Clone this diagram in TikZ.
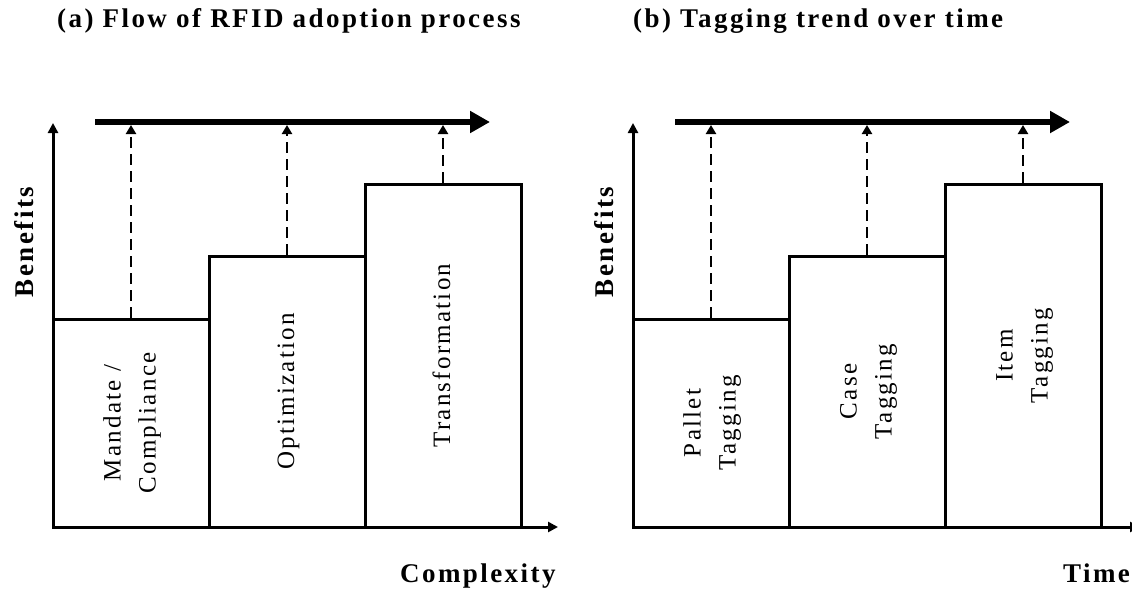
\documentclass[tikz,border=0pt]{standalone}
\usepackage{fontspec}
\setmainfont{Liberation Serif}[LetterSpace=9]
\usepackage{graphicx}
\usetikzlibrary{arrows.meta}

\newcommand{\uplabel}[1]{\rotatebox{90}{\begin{tabular}{@{}c@{}}#1\end{tabular}}}

\begin{document}
\begin{tikzpicture}[x=1pt, y=-1pt,
  axis/.style={line width=3pt, {Triangle[length=10pt,width=10pt]}-{Triangle[length=10pt,width=10pt]}},
  flow/.style={line width=6.5pt, -{Triangle[length=20pt,width=21pt]}},
  lift/.style={line width=2.2pt, dash pattern=on 11pt off 6pt, -{Triangle[length=9pt,width=10pt]}},
  stage/.style={draw, line width=3pt, inner sep=0pt, minimum width=156pt,
                font=\fontsize{25}{35}\selectfont},
  hd/.style={font=\fontsize{27}{30}\selectfont\bfseries, anchor=base west, inner sep=0pt},
  ax/.style={font=\fontsize{27}{30}\selectfont\bfseries, inner sep=0pt}]
\useasboundingbox (0,0) rectangle (1132,592);
\clip (0,0) rectangle (1132,592);
% (a) adoption process
\node[hd] (titA) at (57,27) {(a) Flow of RFID adoption process};
\coordinate (oA) at (53,527);
\coordinate (yA) at (53,123);
\coordinate (xA) at (558,527);
\draw[axis] (yA) -- (oA) -- (xA);
\node[ax, rotate=90] (benA) at (24,242) {Benefits};
\node[ax, anchor=base west] (cpx) at (400,582) {Complexity};
\node[stage, minimum height=208pt] (mandate) at (131,423) {\uplabel{Mandate /\\Compliance}};
\node[stage, minimum height=271pt] (optim) at (287,391.5) {\uplabel{Optimization}};
\node[stage, minimum height=343pt] (transf) at (443,355.5) {\uplabel{Transformation}};
\coordinate (fa) at (95,122);
\coordinate (fb) at (490,122);
\coordinate (ftopA) at (0,125);
\draw[flow] (fa) -- (fb);
\draw[lift] (mandate.north) -- (mandate.north |- ftopA);
\draw[lift] (optim.north) -- (optim.north |- ftopA);
\draw[lift] (transf.north) -- (transf.north |- ftopA);
% (b) tagging trend
\node[hd] (titB) at (633,27) {(b) Tagging trend over time};
\coordinate (oB) at (633,527);
\coordinate (yB) at (633,123);
\coordinate (xB) at (1140,527);
\draw[axis] (yB) -- (oB) -- (xB);
\node[ax, rotate=90] (benB) at (604,242) {Benefits};
\node[ax, anchor=base west] (tme) at (1063,582) {Time};
\node[stage, minimum height=208pt] (pallet) at (711,423) {\uplabel{Pallet\\Tagging}};
\node[stage, minimum height=271pt] (case) at (867,391.5) {\uplabel{Case\\Tagging}};
\node[stage, minimum height=343pt] (item) at (1023,355.5) {\uplabel{Item\\Tagging}};
\coordinate (ga) at (675,122);
\coordinate (gb) at (1070,122);
\coordinate (ftopB) at (0,125);
\draw[flow] (ga) -- (gb);
\draw[lift] (pallet.north) -- (pallet.north |- ftopB);
\draw[lift] (case.north) -- (case.north |- ftopB);
\draw[lift] (item.north) -- (item.north |- ftopB);
\end{tikzpicture}
\end{document}
